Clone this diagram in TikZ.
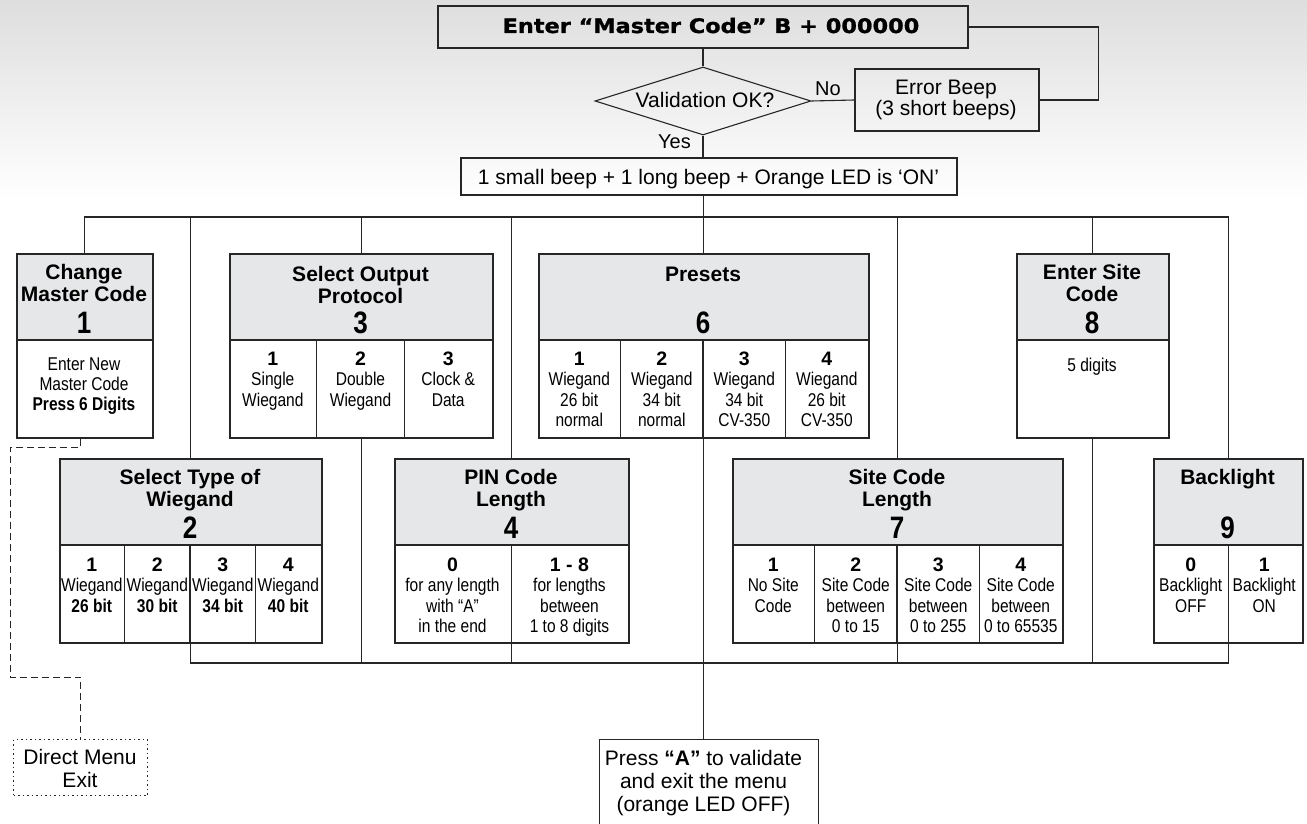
\documentclass[tikz,border=0pt]{standalone}
\usepackage{fontspec}
\setmainfont{Liberation Sans}
\newfontfamily\nar{Liberation Sans}[FakeStretch=0.84]
\newfontfamily\blk{DejaVu Sans}[FakeStretch=1.12, FakeBold=1.2]
\usetikzlibrary{shapes.geometric}
\definecolor{hdrgray}{HTML}{E6E7E8}
\definecolor{ln}{HTML}{262626}
\newcommand\ml[1]{\begin{tabular}[t]{@{}c@{}}#1\end{tabular}}
\newcommand\cn[1]{{\rmfamily\bfseries\fontsize{19.5}{20.5}\selectfont #1}}
\tikzset{
  conn/.style={draw=ln, line width=1.1pt},
  frame/.style={draw=ln, line width=1.7pt},
  hdr/.style={frame, fill=hdrgray, anchor=north west, inner sep=0, minimum height=86},
  bodybox/.style={frame, fill=white, anchor=north west, inner sep=0, minimum height=98},
  div/.style={draw=ln, line width=1.1pt},
  ttl/.style={anchor=base, inner sep=0, font=\fontsize{21}{22}\selectfont\bfseries},
  num/.style={anchor=base, inner sep=0, font=\fontsize{31}{31}\selectfont\nar\bfseries},
  col/.style={anchor=base, inner sep=0, font=\fontsize{18.5}{20.5}\selectfont\nar},
  plain/.style={anchor=base, inner sep=0, font=\fontsize{21}{20}\selectfont},
  dashline/.style={draw=ln, line width=1pt, dash pattern=on 7pt off 4pt},
}
\begin{document}
\begin{tikzpicture}[x=1pt,y=-1pt]
\useasboundingbox (0,0) rectangle (1307,824);
\shade[top color=black!13, bottom color=white] (0,0) rectangle (1307,200);

% ---------- top part ----------
\node[frame, minimum width=530, minimum height=42, inner sep=0] (title) at (703,27) {};
\node[anchor=base, inner sep=0, font=\fontsize{20}{20}\selectfont\blk\bfseries] (titletxt) at (711,33) {Enter “Master Code” B + 000000};

\node[draw=ln, line width=1.1pt, diamond, aspect=3.18, minimum width=216, minimum height=68, inner sep=0] (dia) at (703,101) {};
\node[plain] (diatxt) at (705,108) {Validation OK?};

\node[frame, minimum width=184, minimum height=62, inner sep=0] (err) at (947,100) {};
\node[plain, font=\fontsize{21}{18.5}\selectfont] (errtxt) at (946,95) {\ml{Error Beep\\(3 short beeps)}};

\node[frame, minimum width=496, minimum height=37, inner sep=0] (beep) at (709,176.5) {};
\node[plain] (beeptxt) at (708.5,185) {1 small beep + 1 long beep + Orange LED is ‘ON’};

\node[plain, anchor=base west, font=\fontsize{20}{20}\selectfont] (no) at (815,96) {No};
\node[plain, font=\fontsize{20}{20}\selectfont] (yes) at (674.5,149) {Yes};

% ---------- row 1 ----------
% box 1
\node[hdr, minimum width=136] (h1) at (16,253) {};
\node[bodybox, minimum width=136] (b1) at (16,339) {};
\node[ttl] (h1t) at (84,279) {\ml{Change\\Master Code}};
\node[num] (h1n) at (84,333) {1};
\node[col, font=\fontsize{18.5}{20}\selectfont\nar] (b1t) at (84,370) {\ml{Enter New\\Master Code\\\textbf{Press 6 Digits}}};

% box 3
\node[hdr, minimum width=263] (h3) at (229,253) {};
\node[bodybox, minimum width=263] (b3) at (229,339) {};
\node[ttl] (h3t) at (360.5,281) {\ml{Select Output\\Protocol}};
\node[num] (h3n) at (360.5,333) {3};
\foreach \i in {1,2} \draw[div] ([xshift=\i*87.67pt]b3.north west) -- ([xshift=\i*87.67pt]b3.south west);
\node[col] (c3a) at (272.8,365) {\ml{\cn{1}\\Single\\Wiegand}};
\node[col] (c3b) at (360.5,365) {\ml{\cn{2}\\Double\\Wiegand}};
\node[col] (c3c) at (448.2,365) {\ml{\cn{3}\\Clock \&\\Data}};

% box 6
\node[hdr, minimum width=330] (h6) at (538,253) {};
\node[bodybox, minimum width=330] (b6) at (538,339) {};
\node[ttl] (h6t) at (703,281) {Presets};
\node[num] (h6n) at (703,333) {6};
\foreach \i in {1,2,3} \draw[div] ([xshift=\i*82.5pt]b6.north west) -- ([xshift=\i*82.5pt]b6.south west);
\node[col] (c6a) at (579.25,365) {\ml{\cn{1}\\Wiegand\\26 bit\\normal}};
\node[col] (c6b) at (661.75,365) {\ml{\cn{2}\\Wiegand\\34 bit\\normal}};
\node[col] (c6c) at (744.25,365) {\ml{\cn{3}\\Wiegand\\34 bit\\CV-350}};
\node[col] (c6d) at (826.75,365) {\ml{\cn{4}\\Wiegand\\26 bit\\CV-350}};

% box 8
\node[hdr, minimum width=152] (h8) at (1016,253) {};
\node[bodybox, minimum width=152] (b8) at (1016,339) {};
\node[ttl] (h8t) at (1092,279) {\ml{Enter Site\\Code}};
\node[num] (h8n) at (1092,333) {8};
\node[col] (b8t) at (1092,371) {5 digits};

% ---------- row 2 ----------
% box 2
\node[hdr, minimum width=262] (h2) at (59,458) {};
\node[bodybox, minimum width=262] (b2) at (59,544) {};
\node[ttl] (h2t) at (190,484) {\ml{Select Type of\\Wiegand}};
\node[num] (h2n) at (190,538) {2};
\foreach \i in {1,2,3} \draw[div] ([xshift=\i*65.5pt]b2.north west) -- ([xshift=\i*65.5pt]b2.south west);
\node[col] (c2a) at (91.75,571) {\ml{\cn{1}\\Wiegand\\\textbf{26 bit}}};
\node[col] (c2b) at (157.25,571) {\ml{\cn{2}\\Wiegand\\\textbf{30 bit}}};
\node[col] (c2c) at (222.75,571) {\ml{\cn{3}\\Wiegand\\\textbf{34 bit}}};
\node[col] (c2d) at (288.25,571) {\ml{\cn{4}\\Wiegand\\\textbf{40 bit}}};

% box 4
\node[hdr, minimum width=234] (h4) at (394,458) {};
\node[bodybox, minimum width=234] (b4) at (394,544) {};
\node[ttl] (h4t) at (511,484) {\ml{PIN Code\\Length}};
\node[num] (h4n) at (511,538) {4};
\draw[div] (b4.north) -- (b4.south);
\node[col] (c4a) at (452.5,571) {\ml{\cn{0}\\for any length\\with “A”\\in the end}};
\node[col] (c4b) at (569.5,571) {\ml{\cn{1 - 8}\\for lengths\\between\\1 to 8 digits}};

% box 7
\node[hdr, minimum width=330] (h7) at (732,458) {};
\node[bodybox, minimum width=330] (b7) at (732,544) {};
\node[ttl] (h7t) at (897,484) {\ml{Site Code\\Length}};
\node[num] (h7n) at (897,538) {7};
\foreach \i in {1,2,3} \draw[div] ([xshift=\i*82.5pt]b7.north west) -- ([xshift=\i*82.5pt]b7.south west);
\node[col] (c7a) at (773.25,571) {\ml{\cn{1}\\No Site\\Code}};
\node[col] (c7b) at (855.75,571) {\ml{\cn{2}\\Site Code\\between\\0 to 15}};
\node[col] (c7c) at (938.25,571) {\ml{\cn{3}\\Site Code\\between\\0 to 255}};
\node[col] (c7d) at (1020.75,571) {\ml{\cn{4}\\Site Code\\between\\0 to 65535}};

% box 9
\node[hdr, minimum width=149] (h9) at (1153,458) {};
\node[bodybox, minimum width=149] (b9) at (1153,544) {};
\node[ttl] (h9t) at (1227.5,484) {Backlight};
\node[num] (h9n) at (1227.5,538) {9};
\draw[div] (b9.north) -- (b9.south);
\node[col] (c9a) at (1190.75,571) {\ml{\cn{0}\\Backlight\\OFF}};
\node[col] (c9b) at (1264.25,571) {\ml{\cn{1}\\Backlight\\ON}};

% ---------- bottom ----------
\node[frame, line width=1.1pt, minimum width=219, minimum height=85, inner sep=0, anchor=north west] (pressA) at (599,739) {};
\node[plain, font=\fontsize{21}{23}\selectfont] (pressAt) at (703.5,765) {\ml{Press \textbf{“A”} to validate\\and exit the menu\\(orange LED OFF)}};

\node[draw=ln, line width=1.1pt, dash pattern=on 1.5pt off 3pt, minimum width=134, minimum height=56, inner sep=0, anchor=north west] (exit) at (13,739) {};
\node[plain, font=\fontsize{21}{23}\selectfont] (exitt) at (80,764) {\ml{Direct Menu\\Exit}};

% ---------- connectors ----------
\coordinate (bus1) at (703,217);
\coordinate (bus2) at (703,663);
\coordinate (d1) at (10,447);
\coordinate (d2) at (10,677);
\draw[conn] (title.south) -- (dia.north);
\draw[conn] (dia.east) -- (err.west);
\draw[conn] (title.east) -- ++(130,0) |- (err.east);
\draw[conn] (dia.south) -- (dia.south |- beep.north);
\draw[conn] (h6.north |- beep.south) -- (h6.north);
\draw[conn] (h1.north) -- (h1.north |- bus1) -- (h9.north |- bus1) -- (h9.north);
\foreach \n in {h2,h3,h4,h7,h8} \draw[conn] (\n.north) -- (\n.north |- bus1);
\draw[conn] (b2.south) -- (b2.south |- bus2) -- (b9.south |- bus2) -- (b9.south);
\foreach \n in {b3,b4,b7,b8} \draw[conn] (\n.south) -- (\n.south |- bus2);
\draw[conn] (b6.south) -- (b6.south |- pressA.north);
\draw[dashline] ([xshift=-4pt]b1.south) |- (d1) -- (d2) -| (exit.north);
\end{tikzpicture}
\end{document}
